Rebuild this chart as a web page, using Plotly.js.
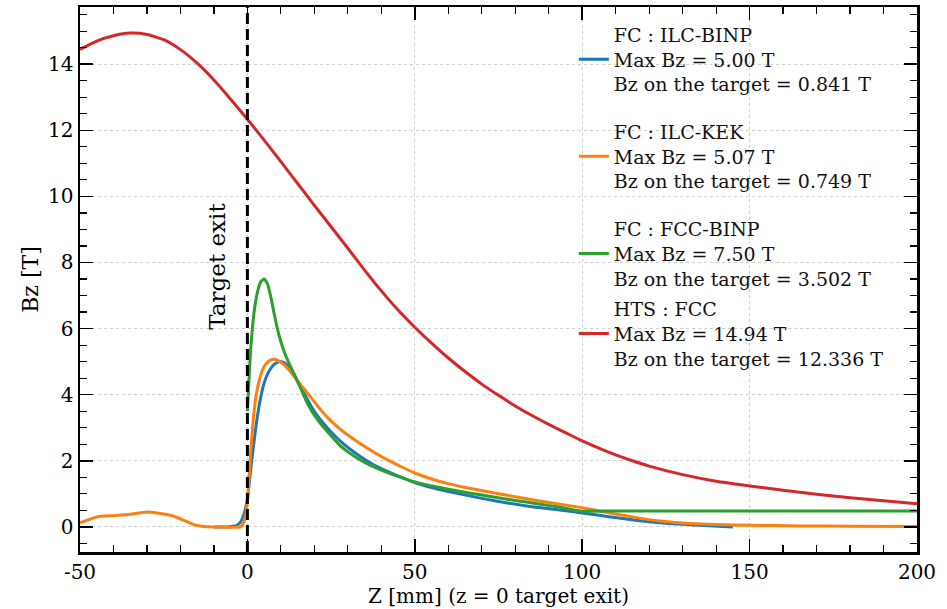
<!DOCTYPE html>
<html>
<head>
<meta charset="utf-8">
<script src="https://cdn.plot.ly/plotly-3.0.1.min.js"></script>
<style>html,body{margin:0;padding:0;background:#fff;}#chart{width:947px;height:609px;}</style>
</head>
<body>
<div id="chart"></div>
<script>
// ILC-BINP flux concentrator
const binpZ  = [-10, -6, -4, -3, -2, -1, 0, 1, 2, 3, 4, 5, 6, 7, 8, 9, 10, 11, 12, 13, 14, 15, 17, 19, 21, 23, 25, 28, 32, 36, 40, 45, 50, 55, 60, 66.6, 75, 85, 95, 100, 108, 116, 125, 135, 145];
const binpBz = [0, 0, 0.02, 0.06, 0.15, 0.40, 0.841, 1.75, 2.60, 3.35, 3.93, 4.35, 4.62, 4.80, 4.92, 4.98, 5.00, 4.97, 4.88, 4.74, 4.58, 4.40, 4.03, 3.66, 3.35, 3.10, 2.87, 2.57, 2.25, 1.98, 1.76, 1.54, 1.34, 1.19, 1.07, 0.93, 0.77, 0.61, 0.49, 0.42, 0.31, 0.20, 0.11, 0.05, 0.0];

// ILC-KEK flux concentrator
const kekZ  = [-50, -45, -40, -35, -30, -27, -23, -19, -16, -13, -10, -2, -1, 0, 1, 2, 3, 4, 5, 6, 7, 8, 9, 10, 11, 12, 14, 16, 18, 20, 22.5, 25, 27.8, 30, 34, 37.8, 42, 46, 50, 55, 60, 66.6, 72.6, 80, 90, 99.4, 108, 116.3, 124, 131, 140, 150, 165, 180, 200];
const kekBz = [0.12, 0.30, 0.34, 0.38, 0.45, 0.42, 0.35, 0.20, 0.07, 0.01, 0, 0, 0.15, 0.749, 2.30, 3.50, 4.20, 4.60, 4.85, 4.98, 5.05, 5.07, 5.04, 4.98, 4.90, 4.80, 4.55, 4.29, 4.04, 3.78, 3.47, 3.20, 2.95, 2.78, 2.50, 2.26, 2.02, 1.82, 1.63, 1.45, 1.31, 1.16, 1.05, 0.91, 0.74, 0.59, 0.43, 0.28, 0.17, 0.11, 0.07, 0.05, 0.03, 0.02, 0.01];

// FCC-BINP flux concentrator
const fccZ  = [0, 0.5, 1, 2, 3, 4, 5, 6, 7, 8, 9, 10, 11, 12, 14, 16, 18, 20, 22.5, 25, 27.8, 30, 35, 40, 45, 50, 55, 60, 66.6, 72.6, 80, 86.5, 93, 99.4, 110, 130, 150, 175, 200];
const fccBz = [3.502, 4.50, 5.40, 6.50, 7.10, 7.42, 7.50, 7.35, 6.95, 6.45, 5.98, 5.60, 5.30, 5.05, 4.62, 4.17, 3.72, 3.38, 3.04, 2.76, 2.45, 2.27, 1.95, 1.72, 1.53, 1.36, 1.24, 1.14, 1.02, 0.92, 0.80, 0.70, 0.60, 0.48, 0.48, 0.48, 0.48, 0.48, 0.48];

// HTS solenoid (FCC)
const htsZ  = [-50, -45, -40, -35, -30, -25, -20, -15, -10, -5, 0, 5, 10, 15, 20, 25, 30, 35, 40, 45, 50, 55, 60, 65, 70, 75, 80, 85, 90, 95, 100, 105, 110, 115, 120, 130, 140, 150, 160, 170, 180, 190, 200];
const htsBz = [14.45, 14.70, 14.86, 14.94, 14.90, 14.74, 14.44, 14.03, 13.52, 12.94, 12.336, 11.70, 11.05, 10.39, 9.73, 9.08, 8.43, 7.77, 7.14, 6.56, 6.04, 5.56, 5.11, 4.70, 4.32, 3.98, 3.66, 3.37, 3.10, 2.85, 2.60, 2.38, 2.18, 2.00, 1.84, 1.58, 1.38, 1.24, 1.11, 0.99, 0.88, 0.79, 0.70];

const seriesNames = [
  "FC : ILC-BINP<br>Max Bz = 5.00 T<br>Bz on the target = 0.841 T",
  "FC : ILC-KEK<br>Max Bz = 5.07 T<br>Bz on the target = 0.749 T",
  "FC : FCC-BINP<br>Max Bz = 7.50 T<br>Bz on the target = 3.502 T",
  "HTS : FCC<br>Max Bz = 14.94 T<br>Bz on the target = 12.336 T"
];
const seriesColors = ["#1f77b4", "#ff7f0e", "#2ca02c", "#d62728"];
const seriesLegend = ["legend", "legend", "legend", "legend2"];

const xTickVals = [-50, 0, 50, 100, 150, 200];
const xTickText = ["-50", "0", "50", "100", "150", "200"];

const targetExitZ = 0;
const xTitle = "Z [mm] (z = 0 target exit)";
const yTitle = "Bz [T]";
const targetLabel = "Target exit";

const FONT = "DejaVu Serif";
const xs = [binpZ, kekZ, fccZ, htsZ];
const ys = [binpBz, kekBz, fccBz, htsBz];

const traces = xs.map((x, i) => ({
  x: x, y: ys[i], type: "scatter", mode: "lines",
  name: seriesNames[i], legend: seriesLegend[i], legendgroup: "g" + i,
  line: {color: seriesColors[i], width: 3, shape: "spline", smoothing: 0.5},
  hoverinfo: "skip"
}));

const axisCommon = {
  showline: true, linecolor: "#000", linewidth: 2.5, mirror: "allticks",
  ticks: "inside", ticklen: 13, tickwidth: 1.5, tickcolor: "#000",
  showgrid: true, gridcolor: "#cfcfcf", griddash: "dot", gridwidth: 1,
  zeroline: false,
  tickfont: {family: FONT, size: 20, color: "#000"},
  minor: {ticks: "inside", ticklen: 7, tickwidth: 1.2, tickcolor: "#000", showgrid: false}
};

const legendCommon = {
  xanchor: "left", yanchor: "top",
  bgcolor: "rgba(0,0,0,0)", borderwidth: 0,
  font: {family: FONT, size: 19, color: "#111"},
  tracegroupgap: 20, itemwidth: 30
};

const layout = {
  width: 947, height: 609,
  margin: {l: 80, r: 30, t: 7, b: 57},
  paper_bgcolor: "#fff", plot_bgcolor: "#fff",
  font: {family: FONT, size: 20, color: "#000"},
  showlegend: true,
  legend: Object.assign({}, legendCommon, {x: 0.59, y: 0.984}),
  legend2: Object.assign({}, legendCommon, {x: 0.59, y: 0.481}),
  xaxis: Object.assign({}, axisCommon, {
    range: [-50, 200], tickmode: "array", tickvals: xTickVals, ticktext: xTickText,
    minor: Object.assign({}, axisCommon.minor, {dtick: 10, tick0: 0}),
    title: {text: xTitle, font: {family: FONT, size: 20, color: "#000"}, standoff: 6}
  }),
  yaxis: Object.assign({}, axisCommon, {
    range: [-0.76, 15.73], dtick: 2, tick0: 0,
    minor: Object.assign({}, axisCommon.minor, {dtick: 0.5, tick0: 0}),
    title: {text: yTitle, font: {family: FONT, size: 22, color: "#000"}, standoff: 4}
  }),
  shapes: [{
    type: "line", xref: "x", yref: "paper",
    x0: targetExitZ, x1: targetExitZ, y0: 0, y1: 1,
    line: {color: "#000", width: 3, dash: "11px,5px"}
  }],
  annotations: [{
    text: targetLabel, xref: "x", yref: "y", x: -9.1, y: 7.9,
    textangle: -90, showarrow: false,
    font: {family: FONT, size: 23, color: "#000"}
  }]
};

Plotly.newPlot("chart", traces, layout, {staticPlot: true, displayModeBar: false});
</script>
</body>
</html>
